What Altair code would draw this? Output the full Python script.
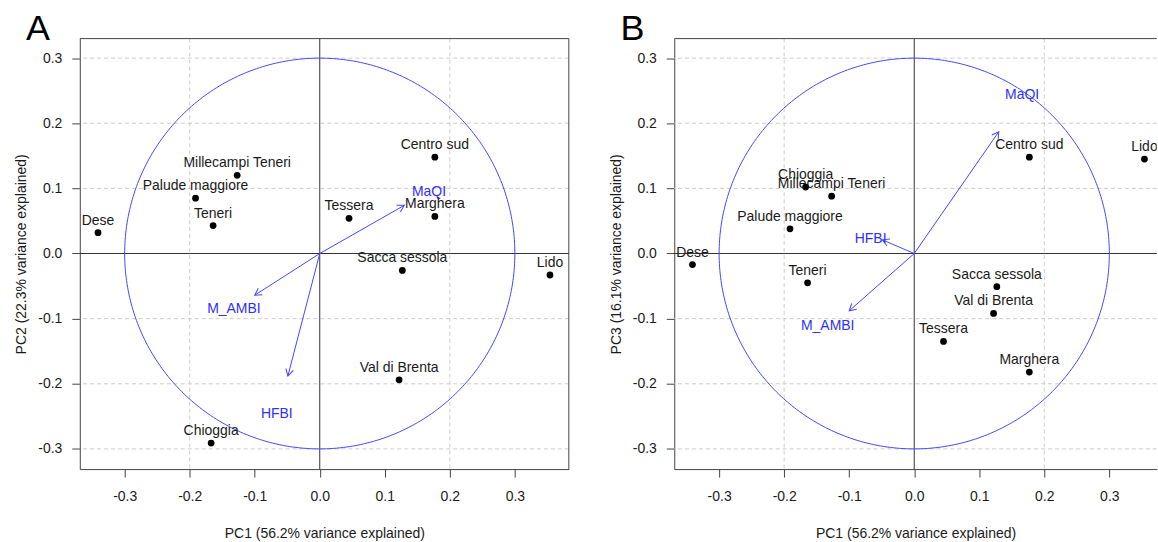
import altair as alt
import numpy as np
import pandas as pd

# ---------------- data ----------------
SITES = ["Dese", "Palude maggiore", "Teneri", "Millecampi Teneri", "Tessera",
         "Centro sud", "Marghera", "Sacca sessola", "Lido", "Val di Brenta", "Chioggia"]
PC1 = [-0.341, -0.191, -0.164, -0.127, 0.045, 0.177, 0.177, 0.127, 0.354, 0.122, -0.167]
PC2 = [0.032, 0.085, 0.043, 0.120, 0.054, 0.148, 0.057, -0.026, -0.033, -0.194, -0.291]
PC3 = [-0.017, 0.038, -0.045, 0.088, -0.135, 0.148, -0.182, -0.051, 0.145, -0.092, 0.102]

VARIABLES = ["MaQI", "M_AMBI", "HFBI"]
LOAD_PC1 = [0.130, -0.100, -0.049]
LOAD_PC2 = [0.074, -0.064, -0.188]
LOAD_PC3 = [0.187, -0.088, 0.021]
LABEL_A_X = [0.168, -0.132, -0.066]
LABEL_A_Y = [0.094, -0.085, -0.247]
LABEL_B_X = [0.166, -0.133, -0.067]
LABEL_B_Y = [0.243, -0.112, 0.022]

TICKS = [-0.3, -0.2, -0.1, 0.0, 0.1, 0.2, 0.3]
XGRID = [-0.2, 0.2]
YGRID = [-0.3, -0.2, -0.1, 0.1, 0.2, 0.3]
CIRCLE_RADIUS = 0.3

X_TITLE = "PC1 (56.2% variance explained)"
Y_TITLE_A = "PC2 (22.3% variance explained)"
Y_TITLE_B = "PC3 (16.1% variance explained)"

# ---------------- layout / style ----------------
FONT = "Liberation Sans"
PX_X = 652.0   # pixels per data unit, x
PX_Y = 653.0   # pixels per data unit, y
XDOM_A = [-0.369, 0.383]
XDOM_B = [-0.369, 0.373]
YDOM = [-0.331, 0.330]
BLUE_LINE = "#4646ff"
BLUE_TEXT = "#2f2fff"
FRAME = "#444444"
TEXT = "#1a1a1a"
ARROW_PATH = "M -0.5 0.866 L 0 0 L 0.5 0.866"

LABEL_EXPR = "replace(format(datum.value, '.1f'), '\u2212', '-')"


def panel(letter, ydata, ytitle, load_y, lab_x, lab_y, xdom, right_border):
    W = round((xdom[1] - xdom[0]) * PX_X, 1)
    H = round((YDOM[1] - YDOM[0]) * PX_Y, 1)
    xs = alt.Scale(domain=xdom, nice=False, zero=False)
    ys = alt.Scale(domain=YDOM, nice=False, zero=False)

    sites = pd.DataFrame({"site": SITES, "x": PC1, "y": ydata})
    loads = pd.DataFrame({"var": VARIABLES, "x0": 0.0, "y0": 0.0,
                          "lx": LOAD_PC1, "ly": load_y,
                          "tx": lab_x, "ty": lab_y})
    loads["ang"] = (np.degrees(np.arctan2(loads["lx"], loads["ly"])) + 360) % 360
    t = np.linspace(0, 2 * np.pi, 361)
    circle = pd.DataFrame({"i": np.arange(len(t)),
                           "cx": CIRCLE_RADIUS * np.cos(t),
                           "cy": CIRCLE_RADIUS * np.sin(t)})
    one = pd.DataFrame({"z": [0.0]})

    common_axis = dict(values=TICKS, labelExpr=LABEL_EXPR, grid=False,
                       tickSize=8, tickColor=FRAME, domainColor=FRAME,
                       labelFont=FONT, labelFontSize=14, labelColor=TEXT,
                       titleFont=FONT, titleFontSize=14, titleColor=TEXT,
                       titleFontWeight="normal", labelFlush=False,
                       labelOverlap=False)
    xaxis = alt.Axis(title=X_TITLE, labelPadding=13, titlePadding=23, **common_axis)
    yaxis = alt.Axis(title=ytitle, labelPadding=10, titlePadding=9, **common_axis)

    # invisible first layer that carries the axes
    axes_layer = alt.Chart(sites).mark_point(opacity=0).encode(
        x=alt.X("x:Q", scale=xs, axis=xaxis),
        y=alt.Y("y:Q", scale=ys, axis=yaxis))

    xgrid = alt.Chart(pd.DataFrame({"g": XGRID})).mark_rule(
        color="#cccccc", strokeDash=[4, 3], strokeWidth=1).encode(
        x=alt.X("g:Q", scale=xs))
    ygrid = alt.Chart(pd.DataFrame({"g": YGRID})).mark_rule(
        color="#cccccc", strokeDash=[4, 3], strokeWidth=1).encode(
        y=alt.Y("g:Q", scale=ys))
    xzero = alt.Chart(one).mark_rule(color="#333333", strokeWidth=1).encode(
        x=alt.X("z:Q", scale=xs))
    yzero = alt.Chart(one).mark_rule(color="#333333", strokeWidth=1).encode(
        y=alt.Y("z:Q", scale=ys))

    circ = alt.Chart(circle).mark_line(color=BLUE_LINE, strokeWidth=1).encode(
        x=alt.X("cx:Q", scale=xs),
        y=alt.Y("cy:Q", scale=ys),
        order="i:Q")

    arrows = alt.Chart(loads).mark_rule(color=BLUE_LINE, strokeWidth=1).encode(
        x=alt.X("x0:Q", scale=xs),
        y=alt.Y("y0:Q", scale=ys),
        x2="lx:Q", y2="ly:Q")
    heads = alt.Chart(loads).mark_point(
        shape=ARROW_PATH, filled=False, size=240, color=BLUE_LINE,
        strokeWidth=1, opacity=1).encode(
        x=alt.X("lx:Q", scale=xs),
        y=alt.Y("ly:Q", scale=ys),
        angle=alt.Angle("ang:Q", scale=None))
    varlab = alt.Chart(loads).mark_text(
        font=FONT, fontSize=14, color=BLUE_TEXT, align="center",
        baseline="middle").encode(
        x=alt.X("tx:Q", scale=xs),
        y=alt.Y("ty:Q", scale=ys),
        text="var:N")

    pts = alt.Chart(sites).mark_point(
        shape="circle", filled=True, size=46, color="#000000", opacity=1).encode(
        x=alt.X("x:Q", scale=xs),
        y=alt.Y("y:Q", scale=ys))
    sitelab = alt.Chart(sites).mark_text(
        font=FONT, fontSize=14, color=TEXT, align="center", baseline="middle",
        dy=-12, clip=True).encode(
        x=alt.X("x:Q", scale=xs),
        y=alt.Y("y:Q", scale=ys),
        text="site:N")

    top = alt.Chart(one).mark_rule(color=FRAME, strokeWidth=1).encode(
        x=alt.value(0), x2=alt.value(W), y=alt.value(0))
    layers = [axes_layer, xgrid, ygrid, xzero, yzero, circ, arrows, heads, varlab,
              pts, sitelab, top]
    if right_border:
        layers.append(alt.Chart(one).mark_rule(color=FRAME, strokeWidth=1).encode(
            x=alt.value(W), y=alt.value(0), y2=alt.value(H)))
    layers.append(alt.Chart(one).mark_text(
        font=FONT, fontSize=36, color="#000000", align="left",
        baseline="alphabetic").encode(
        x=alt.value(-54), y=alt.value(1), text=alt.value(letter)))

    return alt.layer(*layers).properties(width=W, height=H)


pa = panel("A", PC2, Y_TITLE_A, LOAD_PC2, LABEL_A_X, LABEL_A_Y, XDOM_A, True)
pb = panel("B", PC3, Y_TITLE_B, LOAD_PC3, LABEL_B_X, LABEL_B_Y, XDOM_B, False)

chart = alt.hconcat(pa, pb, spacing=39).properties(
    padding={"left": 14, "top": 10, "right": 0, "bottom": 0},
    background="white",
).configure_view(stroke=None)

chart.save("out.html", embed_options={"renderer": "svg", "actions": False})
